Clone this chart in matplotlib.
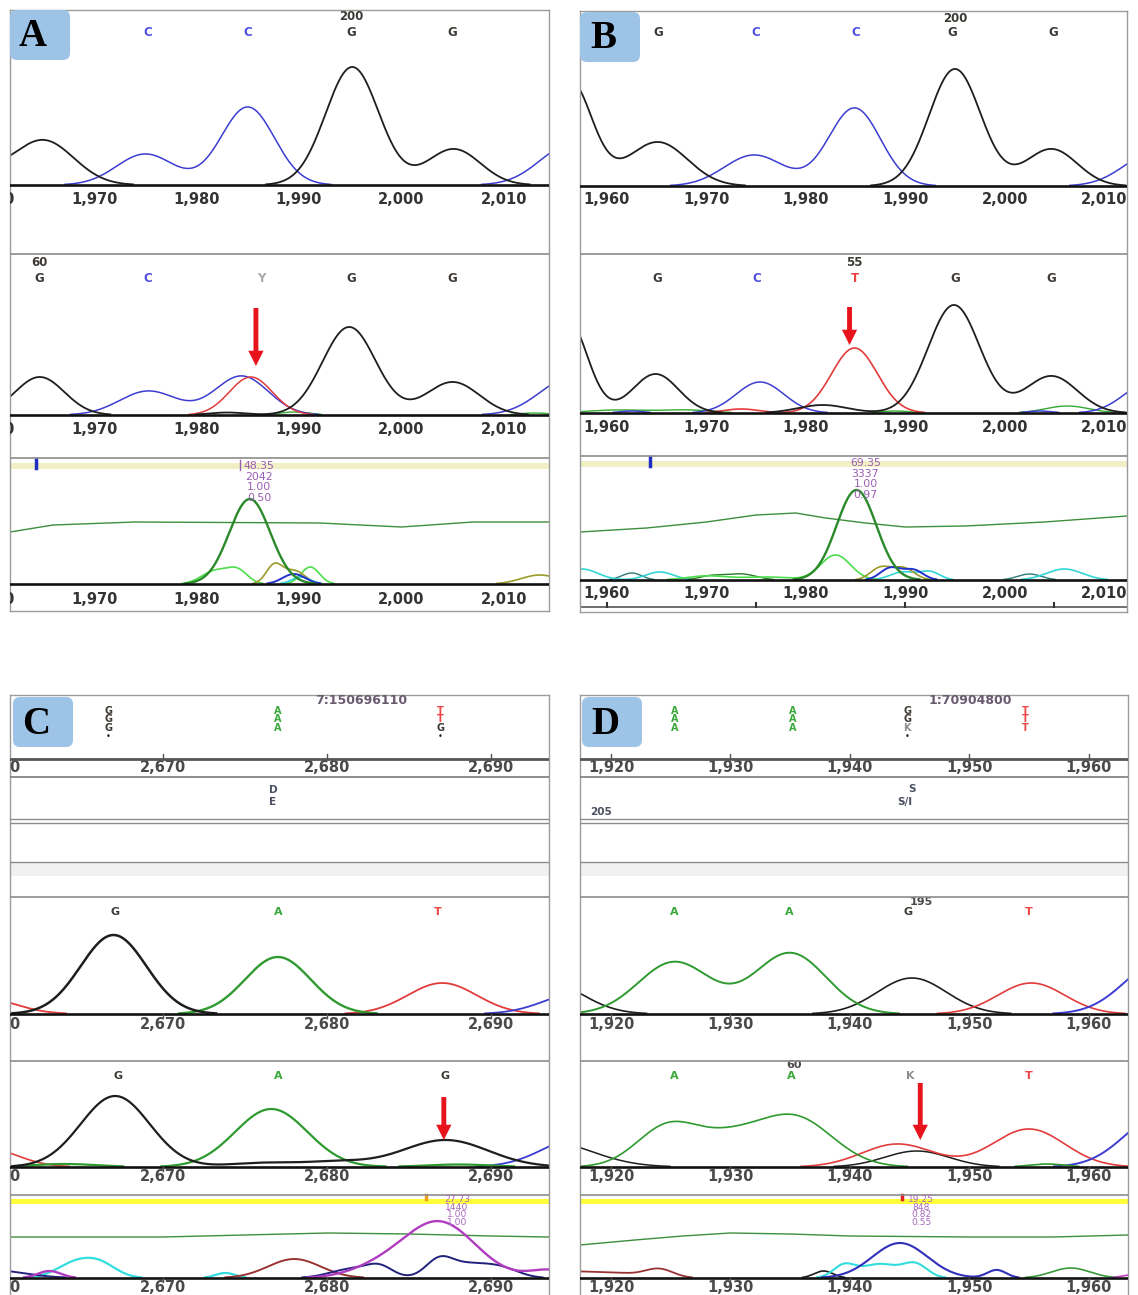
import numpy as np
import matplotlib.pyplot as plt
from matplotlib.patches import FancyBboxPatch

plt.rcParams['font.family'] = 'DejaVu Sans'

W, H = 1138, 1295

# ---------------- data ----------------
# visible base-position range of every panel
xlim_A = (1961.8, 2014.4)
xlim_B = (1957.3, 2012.3)
xlim_C = (2660.7, 2693.5)
xlim_D = (1917.4, 1963.3)

ticks_A = [1960, 1970, 1980, 1990, 2000, 2010]
ticks_B = [1960, 1970, 1980, 1990, 2000, 2010]
ticks_C = [2660, 2670, 2680, 2690]
ticks_D = [1920, 1930, 1940, 1950, 1960]

# peak tables: (base position, height, width)
A1_black = [(1957.0, 25, 2.5), (1965.0, 45, 3.0), (1995.2, 118, 2.6), (2005.1, 36, 2.6)]
A1_blue = [(1975.0, 31, 2.8), (1985.0, 78, 2.6), (2016.5, 40, 3.0)]

A2_black = [(1964.7, 38, 2.4), (1983.0, 2.5, 1.8), (1994.9, 88, 2.6), (2005.0, 33, 2.6)]
A2_blue = [(1975.3, 24, 2.8), (1984.4, 39, 2.6), (2016.5, 37, 3.0)]
A2_red = [(1985.3, 38, 2.1)]
A2_green = [(1989.5, 3, 1.5), (2013.0, 2, 1.5)]

A3_line_x = [1961.8, 1966, 1974, 1992, 2000, 2007, 2014.4]
A3_line_h = [52, 59, 62, 61, 57, 62, 62]
A3_green = [(1985.2, 85, 2.0)]
A3_lgreen = [(1981.8, 13, 1.3), (1984.0, 13, 1.0), (1991.1, 17, 0.9)]
A3_olive = [(1987.6, 19, 0.8), (1989.6, 13, 1.0), (2013.5, 9, 1.8)]
A3_blue = [(1989.5, 10, 1.1)]
A3_cyan = [(1990.2, 7, 0.9)]

B1_black = [(1956.3, 105, 2.2), (1965.1, 44, 3.0), (1995.0, 117, 2.6), (2004.7, 37, 2.6)]
B1_blue = [(1974.8, 31, 3.0), (1984.9, 78, 2.6), (2015.0, 33, 3.0)]

B2_black = [(1956.0, 95, 2.0), (1964.9, 39, 2.3), (1981.7, 8, 2.5), (1994.9, 108, 2.6), (2004.7, 37, 2.6)]
B2_blue = [(1962.5, 2, 1.2), (1975.4, 31, 2.4), (2003.5, 2, 1.2), (2014.5, 30, 2.5)]
B2_red = [(1973.5, 4, 1.8), (1984.9, 65, 2.3)]
B2_green = [(1961.0, 3, 3.0), (1968.0, 3, 2.5), (1989.0, 2, 1.5), (2006.3, 7, 2.2)]

B3_line_x = [1957.3, 1964, 1970, 1975, 1979, 1982, 1986, 1990, 1996, 2004, 2012.3]
B3_line_h = [48, 52, 58, 65, 67, 62, 57, 53, 54, 58, 64]
B3_green = [(1985.1, 90, 2.0)]
B3_lgreen = [(1970.0, 4, 2.0), (1976.0, 3, 2.5), (1983.0, 25, 1.5)]
B3_olive = [(1987.5, 12, 1.0), (1989.8, 12, 1.1)]
B3_blue = [(1988.5, 12, 1.0), (1990.8, 10, 1.0)]
B3_cyan = [(1957.5, 11, 1.6), (1965.3, 8, 1.4), (1989.8, 8, 1.3), (1992.5, 8, 1.0), (2006.0, 11, 1.8)]
B3_teal = [(1962.5, 7, 1.0), (2002.5, 6, 1.2)]
B3_dgreen = [(1970.5, 4, 1.2), (1973.5, 6, 1.5)]

C1_black = [(2667.0, 79, 2.0)]
C1_green = [(2677.0, 57, 2.0)]
C1_red = [(2659.0, 16, 2.0), (2687.0, 31, 2.1)]
C1_blue = [(2695.5, 22, 2.2)]

C2_black = [(2667.1, 71, 2.1), (2676.0, 4, 2.0), (2680.5, 5, 2.0), (2687.2, 27, 2.6)]
C2_green = [(2664.0, 3, 2.0), (2676.6, 58, 2.2), (2688.0, 2.5, 2.0)]
C2_red = [(2659.0, 20, 2.0)]
C2_blue = [(2695.5, 30, 2.3)]

C3_line_x = [2660.7, 2665, 2670, 2675, 2680, 2685, 2690, 2693.5]
C3_line_h = [41, 41, 41, 43, 45, 44, 42, 41]
C3_magenta = [(2663.1, 7, 0.7), (2683.0, 8, 1.8), (2686.8, 56, 2.2), (2693.5, 8, 1.2)]
C3_cyan = [(2664.6, 14, 1.1), (2666.2, 13, 1.0), (2673.8, 5, 0.6)]
C3_maroon = [(2678.0, 19, 1.6)]
C3_navy = [(2659.5, 8, 2.0), (2681.5, 9, 1.3), (2683.2, 10, 0.8),
           (2686.8, 15, 0.8), (2688.7, 14, 1.5), (2690.8, 6, 1.0)]

D1_green = [(1925.3, 52, 3.0), (1935.0, 61, 3.0)]
D1_black = [(1914.5, 33, 3.0), (1945.2, 36, 2.9)]
D1_red = [(1955.2, 31, 2.8)]
D1_blue = [(1966.0, 52, 3.0)]

D2_green = [(1924.8, 41, 2.6), (1929.8, 22, 2.6), (1935.3, 50, 3.2), (1956.5, 3, 1.5)]
D2_black = [(1914.5, 26, 3.8), (1945.6, 16, 2.7)]
D2_red = [(1944.0, 23, 3.0), (1955.0, 38, 3.0)]
D2_blue = [(1966.0, 51, 3.0)]

D3_line_x = [1917.4, 1922, 1926, 1930, 1935, 1940, 1950, 1957, 1963.3]
D3_line_h = [33, 38, 42, 45, 44, 42, 41, 41, 43]
D3_blue = [(1944.2, 35, 2.3), (1952.3, 8, 0.8)]
D3_cyan = [(1939.5, 12, 0.9), (1942.5, 14, 1.6), (1945.5, 13, 1.0)]
D3_black = [(1937.8, 7, 0.8)]
D3_maroon = [(1917.0, 6.5, 2.5), (1921.0, 3, 1.5), (1924.0, 9, 1.2)]
D3_green = [(1958.5, 10, 1.6)]
D3_magenta = [(1963.5, 3, 0.8)]

# base calls
A1_bases = ['C', 'C', 'G', 'G', 'A']
A1_base_x = [1975.2, 1985.0, 1995.1, 2005.0, 2015.3]
A2_bases = ['G', 'C', 'Y', 'G', 'G', 'A']
A2_base_x = [1964.7, 1975.2, 1986.3, 1995.1, 2005.0, 2015.3]
B1_bases = ['G', 'C', 'C', 'G', 'G']
B1_base_x = [1965.2, 1975.0, 1985.0, 1994.7, 2004.9]
B2_bases = ['G', 'C', 'T', 'G', 'G']
B2_base_x = [1965.1, 1975.1, 1984.9, 1995.0, 2004.7]
C1_bases = ['G', 'A', 'T']
C1_base_x = [2667.1, 2677.0, 2686.7]
C2_bases = ['G', 'A', 'G']
C2_base_x = [2667.3, 2677.0, 2687.2]
D1_bases = ['A', 'A', 'G', 'T']
D1_base_x = [1925.3, 1934.9, 1944.9, 1955.0]
D2_bases = ['A', 'A', 'K', 'T']
D2_base_x = [1925.3, 1935.1, 1945.1, 1955.0]

# alignment rows above the traces in C and D
C_align_x = [2666.7, 2677.0, 2686.9]
C_align = [['G', 'G', 'G'], ['A', 'A', 'A'], ['T', 'T', 'G']]
D_align_x = [1925.3, 1935.2, 1944.8, 1954.7]
D_align = [['A', 'A', 'A'], ['A', 'A', 'A'], ['G', 'G', 'K'], ['T', 'T', 'T']]

# quality values at the variant position
A_qual = ['48.35', '2042', '1.00', '0.50']
B_qual = ['69.35', '3337', '1.00', '0.97']
C_qual = ['27.73', '1440', '1.00', '1.00']
D_qual = ['19.25', '848', '0.82', '0.55']

# ---------------- colours ----------------
BLACK = '#1e1e1e'
BLUE = '#3c3cd2'
RED = '#e23b3b'
GREEN = '#2f9a2f'
BASE_COL = {'A': '#3aa83a', 'C': '#4f4fe0', 'G': '#3d3a36', 'T': '#ee4444',
            'Y': '#a8a8a8', 'K': '#8e8e8e'}
ARROW = '#e8141c'
QCOL = '#9a5cb4'

fig = plt.figure(figsize=(W / 100, H / 100), dpi=100)


def make_panel(x0, y0, x1, y1, xlim, bottom=True):
    ax = fig.add_axes([x0 / W, 1 - y1 / H, (x1 - x0) / W, (y1 - y0) / H])
    ax.set_xlim(xlim)
    ax.set_ylim(y1, y0)
    ax.set_xticks([])
    ax.set_yticks([])
    for sp in ax.spines.values():
        sp.set_color('#9c9c9c')
        sp.set_linewidth(1.0)
    if not bottom:
        ax.spines['bottom'].set_visible(False)
    return ax


def trace(ax, xlim, base, peaks, color, lw=1.1):
    xs = np.linspace(xlim[0], xlim[1], 1500)
    ys = np.zeros_like(xs)
    for c, h, s in peaks:
        ys += h * np.exp(-(xs - c) ** 2 / (2 * s * s))
    ys[ys < 0.6] = np.nan
    ax.plot(xs, base - ys, color=color, lw=lw, solid_joinstyle='round')


def knot_line(ax, base, kx, kh, color, lw=1.0):
    ax.plot(kx, base - np.array(kh), color=color, lw=lw)


def baseline(ax, y, xlim, ticks=None, tick_len=0):
    ax.plot(xlim, [y, y], color='#111111', lw=1.9, zorder=5)
    if ticks and tick_len:
        for t in ticks:
            ax.plot([t, t], [y, y + tick_len], color='#555555', lw=1.0, zorder=5)


def tick_labels(ax, ticks, y, size=10.5, color='#333333'):
    for t in ticks:
        ax.text(t, y, f'{t:,}', ha='center', va='center', fontsize=size,
                fontweight='bold', color=color, clip_on=True)


def base_row(ax, letters, xs, y, size=8.5):
    for b, x in zip(letters, xs):
        ax.text(x, y, b, ha='center', va='center', fontsize=size,
                fontweight='bold', color=BASE_COL[b], clip_on=True)


def arrow(ax, x, y_tail, y_tip):
    ax.annotate('', xy=(x, y_tip), xytext=(x, y_tail),
                arrowprops=dict(arrowstyle='simple,head_length=1.1,head_width=1.1,tail_width=0.35',
                                fc=ARROW, ec='none', shrinkA=0, shrinkB=0), zorder=6)


def sep(ax, y, color='#8c8c8c', lw=1.2):
    ax.axhline(y, color=color, lw=lw, zorder=4)


def qual_block(ax, x, ys, vals, size=8, color=QCOL):
    for v, y in zip(vals, ys):
        ax.text(x, y, v, ha='center', va='center', fontsize=size, color=color,
                clip_on=True, zorder=6)


# ================= panel A =================
ax = make_panel(10, 10, 549, 611, xlim_A)
trace(ax, xlim_A, 185, A1_blue, BLUE)
trace(ax, xlim_A, 185, A1_black, BLACK, 1.3)
baseline(ax, 185, xlim_A)
tick_labels(ax, ticks_A, 200)
base_row(ax, A1_bases[:4], A1_base_x[:4], 32)
ax.text(A1_base_x[-1], 32, A1_bases[-1], ha='center', va='center', fontsize=8.5,
        fontweight='bold', color='#cc99cc', clip_on=True)
ax.text(1995.1, 16, '200', ha='center', va='center', fontsize=8.5, fontweight='bold', color='#3d3a36')
sep(ax, 254)

trace(ax, xlim_A, 415, A2_green, '#33aa33', 1.0)
trace(ax, xlim_A, 415, A2_blue, BLUE)
trace(ax, xlim_A, 415, A2_red, RED)
trace(ax, xlim_A, 415, A2_black, BLACK, 1.3)
baseline(ax, 415, xlim_A)
tick_labels(ax, ticks_A, 430)
base_row(ax, A2_bases[:5], A2_base_x[:5], 278)
ax.text(A2_base_x[-1], 278, A2_bases[-1], ha='center', va='center', fontsize=8.5,
        fontweight='bold', color='#cc99cc', clip_on=True)
ax.text(1964.7, 263, '60', ha='center', va='center', fontsize=8.5, fontweight='bold', color='#3d3a36')
ax.text(2015.3, 263, '6', ha='center', va='center', fontsize=8.5, fontweight='bold',
        color='#e0a040', clip_on=True)
arrow(ax, 1985.8, 308, 366)
sep(ax, 458)

ax.axhspan(463, 469, color='#f1efc4', lw=0)
ax.plot([1964.3, 1964.3], [459, 468], color='#2030c0', lw=2.5)
ax.plot([1984.2, 1984.2], [460, 470], color=QCOL, lw=1.0)
qual_block(ax, 1986.1, [466, 477, 487, 498], A_qual, 7.8)
knot_line(ax, 584, A3_line_x, A3_line_h, '#3c8f3c')
trace(ax, xlim_A, 584, A3_lgreen, '#4ddd4d', 1.2)
trace(ax, xlim_A, 584, A3_olive, '#9a9a2a', 1.2)
trace(ax, xlim_A, 584, A3_cyan, '#33d6d6', 1.2)
trace(ax, xlim_A, 584, A3_blue, '#2233cc', 1.4)
trace(ax, xlim_A, 584, A3_green, '#2a8a2a', 1.7)
baseline(ax, 584, xlim_A)
tick_labels(ax, ticks_A, 599)

# ================= panel B =================
ax = make_panel(580, 11, 1127, 612, xlim_B)
trace(ax, xlim_B, 186, B1_blue, BLUE)
trace(ax, xlim_B, 186, B1_black, BLACK, 1.3)
baseline(ax, 186, xlim_B)
tick_labels(ax, ticks_B, 200)
base_row(ax, B1_bases, B1_base_x, 33)
ax.text(1995.0, 18, '200', ha='center', va='center', fontsize=8.5, fontweight='bold', color='#3d3a36')
sep(ax, 254)

trace(ax, xlim_B, 413, B2_green, '#33aa33', 1.0)
trace(ax, xlim_B, 413, B2_blue, BLUE)
trace(ax, xlim_B, 413, B2_red, RED, 1.2)
trace(ax, xlim_B, 413, B2_black, BLACK, 1.3)
baseline(ax, 413, xlim_B)
tick_labels(ax, ticks_B, 428)
base_row(ax, B2_bases, B2_base_x, 278)
ax.text(1984.9, 263, '55', ha='center', va='center', fontsize=8.5, fontweight='bold', color='#3d3a36')
arrow(ax, 1984.4, 307, 345)
sep(ax, 456)

ax.axhspan(461, 467, color='#f1efc4', lw=0)
ax.plot([1964.3, 1964.3], [457, 466], color='#2030c0', lw=2.5)
qual_block(ax, 1986.0, [463, 474, 484, 495], B_qual, 7.8)
knot_line(ax, 580, B3_line_x, B3_line_h, '#3c8f3c')
trace(ax, xlim_B, 580, B3_teal, '#2a7a7a', 1.0)
trace(ax, xlim_B, 580, B3_cyan, '#33d6d6', 1.2)
trace(ax, xlim_B, 580, B3_dgreen, '#2a7a2a', 1.0)
trace(ax, xlim_B, 580, B3_lgreen, '#4ddd4d', 1.2)
trace(ax, xlim_B, 580, B3_olive, '#9a9a2a', 1.2)
trace(ax, xlim_B, 580, B3_blue, '#2233cc', 1.4)
trace(ax, xlim_B, 580, B3_green, '#2a8a2a', 1.7)
baseline(ax, 580, xlim_B)
tick_labels(ax, ticks_B, 594)
ax.plot(xlim_B, [607, 607], color='#555555', lw=1.2)
for t in [1960, 1975, 1990, 2005]:
    ax.plot([t, t], [603, 607], color='#333333', lw=1.5)


# ================= panels C and D =================
def lower_panel(x0, x1, xlim, ticks, align_x, align, align_label, mid_texts,
                t1, t2, t3, qual, qx, marker_x, marker_col):
    ax = make_panel(x0, 695, x1, 1295, xlim, bottom=False)
    # alignment rows
    ax.text(align_label[0], 701, align_label[1], ha='center', va='center', fontsize=9,
            fontweight='bold', color='#6a5a70')
    for x, col in zip(align_x, align):
        for b, y in zip(col, [711, 719, 728]):
            ax.text(x, y, b, ha='center', va='center', fontsize=7, fontweight='bold',
                    color=BASE_COL[b])
        if col[-1] in ('G', 'K') and col[0] in ('T', 'G'):
            ax.text(x, 737, '\u2022', ha='center', va='center', fontsize=6, color='#222222')
    sep(ax, 759, '#555555', 2.0)
    for t in ticks:
        ax.plot([t, t], [754, 759], color='#555555', lw=1.0)
    tick_labels(ax, ticks, 768, 10.5, '#4a4a4a')
    sep(ax, 777, '#7a7a7a', 1.2)
    for x, y, s in mid_texts:
        ax.text(x, y, s, ha='center', va='center', fontsize=7.5, fontweight='bold',
                color='#4a5060', clip_on=True)
    sep(ax, 819, '#8c8c8c', 1.0)
    sep(ax, 823, '#8c8c8c', 1.0)
    sep(ax, 862, '#8c8c8c', 1.0)
    ax.axhspan(863, 876, color='#f1f1f1', lw=0)
    sep(ax, 897)

    # trace 1
    for peaks, col, lw in t1['traces']:
        trace(ax, xlim, 1014, peaks, col, lw)
    baseline(ax, 1014, xlim, ticks, 4)
    tick_labels(ax, ticks, 1025, 10.5, '#4a4a4a')
    base_row(ax, t1['bases'], t1['base_x'], 912, 8)
    for x, y, s in t1['extra']:
        ax.text(x, y, s, ha='center', va='center', fontsize=8, fontweight='bold', color='#4a4a4a')
    sep(ax, 1061)

    # trace 2
    for peaks, col, lw in t2['traces']:
        trace(ax, xlim, 1167, peaks, col, lw)
    baseline(ax, 1167, xlim, ticks, 4)
    tick_labels(ax, ticks, 1177, 10.5, '#4a4a4a')
    base_row(ax, t2['bases'], t2['base_x'], 1076, 8)
    for x, y, s in t2['extra']:
        ax.text(x, y, s, ha='center', va='center', fontsize=8, fontweight='bold', color='#4a4a4a')
    arrow(ax, t2['arrow'][0], t2['arrow'][1], t2['arrow'][2])
    sep(ax, 1195)

    # trace 3
    ax.axhspan(1199, 1204, color='#ffff3a', lw=0)
    ax.plot([marker_x, marker_x], [1195, 1199], color=marker_col, lw=2.5)
    qual_block(ax, qx, [1200, 1207.5, 1215, 1222.5], qual, 6.6, '#a868c0')
    knot_line(ax, 1278, t3['line'][0], t3['line'][1], '#3c8f3c')
    for peaks, col, lw in t3['traces']:
        trace(ax, xlim, 1278, peaks, col, lw)
    baseline(ax, 1278, xlim, ticks, 4)
    tick_labels(ax, ticks, 1288, 10.5, '#4a4a4a')
    return ax


lower_panel(10, 549, xlim_C, ticks_C, C_align_x, C_align, (2682.1, '7:150696110'),
            [(2676.7, 790, 'D'), (2676.7, 802, 'E')],
            dict(traces=[(C1_red, RED, 1.3), (C1_blue, BLUE, 1.3), (C1_green, GREEN, 1.7),
                         (C1_black, BLACK, 1.8)],
                 bases=C1_bases, base_x=C1_base_x, extra=[]),
            dict(traces=[(C2_red, RED, 1.2), (C2_blue, BLUE, 1.3), (C2_green, GREEN, 1.6),
                         (C2_black, BLACK, 1.6)],
                 bases=C2_bases, base_x=C2_base_x, extra=[], arrow=(2687.1, 1097, 1140)),
            dict(line=(C3_line_x, C3_line_h),
                 traces=[(C3_cyan, '#33dddd', 1.6), (C3_maroon, '#993333', 1.4),
                         (C3_navy, '#22227e', 1.4), (C3_magenta, '#b03cc0', 1.7)]),
            C_qual, 2687.9, 2686.0, '#f0a020')

lower_panel(580, 1128, xlim_D, ticks_D, D_align_x, D_align, (1950.1, '1:70904800'),
            [(1945.2, 789, 'S'), (1944.6, 802, 'S/I'), (1919.2, 812, '205')],
            dict(traces=[(D1_black, BLACK, 1.2), (D1_red, RED, 1.2), (D1_blue, BLUE, 1.4),
                         (D1_green, GREEN, 1.4)],
                 bases=D1_bases, base_x=D1_base_x, extra=[(1946.0, 902, '195')]),
            dict(traces=[(D2_black, BLACK, 1.1), (D2_red, RED, 1.2), (D2_blue, BLUE, 1.4),
                         (D2_green, GREEN, 1.2)],
                 bases=D2_bases, base_x=D2_base_x, extra=[(1935.3, 1065, '60')],
                 arrow=(1945.9, 1083, 1140)),
            dict(line=(D3_line_x, D3_line_h),
                 traces=[(D3_maroon, '#993333', 1.3), (D3_black, BLACK, 1.2),
                         (D3_cyan, '#33dddd', 1.5), (D3_green, '#3a9a3a', 1.2),
                         (D3_magenta, '#c040c0', 1.2), (D3_blue, '#3030b8', 1.5)]),
            D_qual, 1946.0, 1944.4, '#e02020')

# ---------------- panel letters ----------------
ov = fig.add_axes([0, 0, 1, 1])
ov.set_xlim(0, W)
ov.set_ylim(H, 0)
ov.axis('off')
ov.patch.set_visible(False)
for letter, bx, by in [('A', 10, 10), ('B', 580, 12), ('C', 13, 697), ('D', 582, 697)]:
    ov.add_patch(FancyBboxPatch((bx, by), 60, 50, boxstyle='round,pad=0,rounding_size=7',
                                fc='#9dc3e6', ec='none'))
    ov.text(bx + 23, by + 27, letter, ha='center', va='center', fontsize=28,
            fontweight='bold', family='Liberation Serif', color='black')

fig.savefig('out.png', dpi=100, facecolor='white')
